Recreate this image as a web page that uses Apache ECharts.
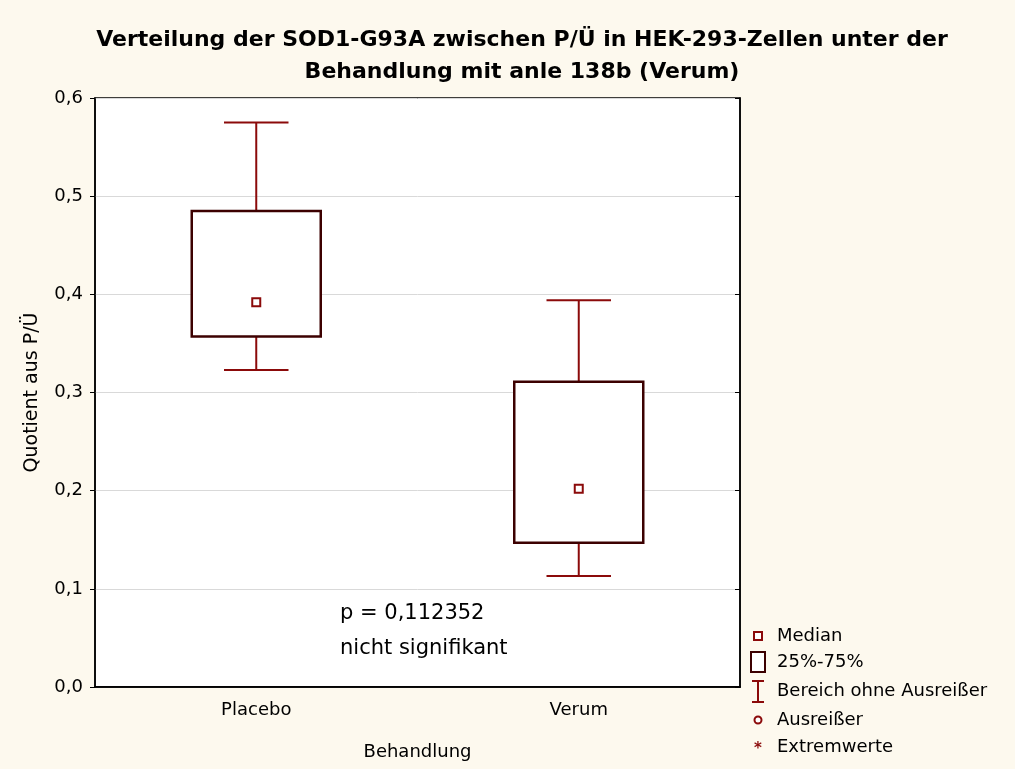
<!DOCTYPE html>
<html><head><meta charset="utf-8">
<script src="https://cdn.jsdelivr.net/npm/echarts@6/dist/echarts.min.js"></script>
<style>html,body{margin:0;padding:0;background:#fdf9ee;}#c{width:1015px;height:769px;}</style>
</head><body><div id="c"></div>
<script>
const categories = ['Placebo', 'Verum'];
const whiskerLow = [0.323, 0.113];
const q1 = [0.357, 0.147];
const median = [0.392, 0.202];
const q3 = [0.485, 0.311];
const whiskerHigh = [0.575, 0.394];
const yTicks = [0, 0.1, 0.2, 0.3, 0.4, 0.5, 0.6];
const legendLabels = ['Median', '25%-75%', 'Bereich ohne Ausreißer', 'Ausreißer', 'Extremwerte'];
const pText = 'p = 0,112352';
const sigText = 'nicht signifikant';

const data = categories.map((c, i) => [i, whiskerLow[i], q1[i], median[i], q3[i], whiskerHigh[i]]);
const FONT = '"DejaVu Sans", sans-serif';
const boxColor = '#3c0000';
const whiskColor = '#8b0a0a';

const chart = echarts.init(document.getElementById('c'));
const legendY = [636, 662, 691, 720, 747];
const lx = 758;
const graphics = [
  {type:'rect', shape:{x:lx-4, y:legendY[0]-4, width:8, height:8}, style:{fill:'#fff', stroke:whiskColor, lineWidth:2}},
  {type:'rect', shape:{x:lx-7, y:legendY[1]-10, width:14, height:20}, style:{fill:'#fff', stroke:boxColor, lineWidth:2}},
  {type:'polyline', shape:{points:[[lx-6, legendY[2]-10],[lx+6, legendY[2]-10]]}, style:{stroke:whiskColor, lineWidth:2}},
  {type:'polyline', shape:{points:[[lx, legendY[2]-10],[lx, legendY[2]+11]]}, style:{stroke:whiskColor, lineWidth:2}},
  {type:'polyline', shape:{points:[[lx-6, legendY[2]+11],[lx+6, legendY[2]+11]]}, style:{stroke:whiskColor, lineWidth:2}},
  {type:'circle', shape:{cx:lx, cy:legendY[3], r:3.5}, style:{fill:'#fff', stroke:whiskColor, lineWidth:2}},
  {type:'text', x:lx, y:legendY[4]+2, style:{text:'*', fill:whiskColor, font:'bold 15px '+FONT, align:'center', verticalAlign:'middle'}},
];
legendLabels.forEach((t, i) => {
  graphics.push({type:'text', x:777, y:legendY[i], style:{text:t, fill:'#000', font:'18px '+FONT, verticalAlign:'middle'}});
});
graphics.push({type:'text', left:340, top:596, style:{text:pText + '\n' + sigText, fill:'#000', font:'21px '+FONT, lineHeight:35}});

chart.setOption({
  backgroundColor: '#fdf9ee',
  animation: false,
  title: {
    text: 'Verteilung der SOD1-G93A zwischen P/Ü in HEK-293-Zellen unter der\nBehandlung mit anle 138b (Verum)',
    left: 517, top: 19, textAlign: 'center',
    textStyle: {fontFamily: FONT, fontWeight: 'bold', fontSize: 22, lineHeight: 32, color: '#000'}
  },
  grid: {left: 95, right: 275, top: 98, bottom: 82, show: true, backgroundColor: '#fff', borderColor: '#000', borderWidth: 1.5},
  xAxis: [{
    type: 'category', data: categories, position: 'bottom',
    axisLine: {lineStyle: {color: '#000', width: 1.5}},
    axisTick: {inside: true, alignWithLabel: true, length: 5, lineStyle: {color: '#000'}, interval: 0},
    axisLabel: {fontFamily: FONT, fontSize: 18, color: '#000', margin: 14},
    name: 'Behandlung', nameLocation: 'middle', nameGap: 56,
    nameTextStyle: {fontFamily: FONT, fontSize: 18, color: '#000'}
  }, {
    type: 'category', data: categories, position: 'top',
    axisLine: {lineStyle: {color: '#000', width: 1.5}},
    axisTick: {inside: true, alignWithLabel: true, length: 5, lineStyle: {color: '#000'}, interval: 0},
    axisLabel: {show: false}
  }],
  yAxis: [{
    type: 'value', min: 0, max: 0.6, interval: 0.1,
    axisLine: {show: true, lineStyle: {color: '#000', width: 1.5}},
    axisTick: {show: true, length: 5, lineStyle: {color: '#000'}},
    axisLabel: {fontFamily: FONT, fontSize: 18, color: '#000', margin: 12,
      formatter: v => v.toFixed(1).replace('.', ',')},
    splitLine: {lineStyle: {color: '#d9d9d9', width: 1}},
    name: 'Quotient aus P/Ü', nameLocation: 'middle', nameGap: 53, nameRotate: 90,
    nameTextStyle: {fontFamily: FONT, fontSize: 19, color: '#000'}
  }, {
    type: 'value', min: 0, max: 0.6, interval: 0.1, position: 'right',
    axisLine: {show: true, lineStyle: {color: '#000', width: 1.5}},
    axisTick: {show: true, inside: true, length: 5, lineStyle: {color: '#000'}},
    axisLabel: {show: false}, splitLine: {show: false}
  }],
  graphic: graphics,
  series: [{
    type: 'custom',
    data: data,
    renderItem: function (params, api) {
      const x = api.value(0);
      const band = api.size([1, 0])[0];
      const bw = band * 0.4, cw = band * 0.2;
      const pLow = api.coord([x, api.value(1)]);
      const pQ1 = api.coord([x, api.value(2)]);
      const pMed = api.coord([x, api.value(3)]);
      const pQ3 = api.coord([x, api.value(4)]);
      const pHigh = api.coord([x, api.value(5)]);
      const cx = pMed[0];
      const ws = {stroke: whiskColor, lineWidth: 2, fill: null};
      return {type: 'group', children: [
        {type: 'line', shape: {x1: cx, y1: pHigh[1], x2: cx, y2: pQ3[1]}, style: ws},
        {type: 'line', shape: {x1: cx - cw/2, y1: pHigh[1], x2: cx + cw/2, y2: pHigh[1]}, style: ws},
        {type: 'line', shape: {x1: cx, y1: pLow[1], x2: cx, y2: pQ1[1]}, style: ws},
        {type: 'line', shape: {x1: cx - cw/2, y1: pLow[1], x2: cx + cw/2, y2: pLow[1]}, style: ws},
        {type: 'rect', shape: {x: cx - bw/2, y: pQ3[1], width: bw, height: pQ1[1] - pQ3[1]},
          style: {fill: '#fff', stroke: boxColor, lineWidth: 2.5}},
        {type: 'rect', shape: {x: cx - 4, y: pMed[1] - 4, width: 8, height: 8},
          style: {fill: '#fff', stroke: whiskColor, lineWidth: 2}}
      ]};
    }
  }]
});
</script></body></html>
